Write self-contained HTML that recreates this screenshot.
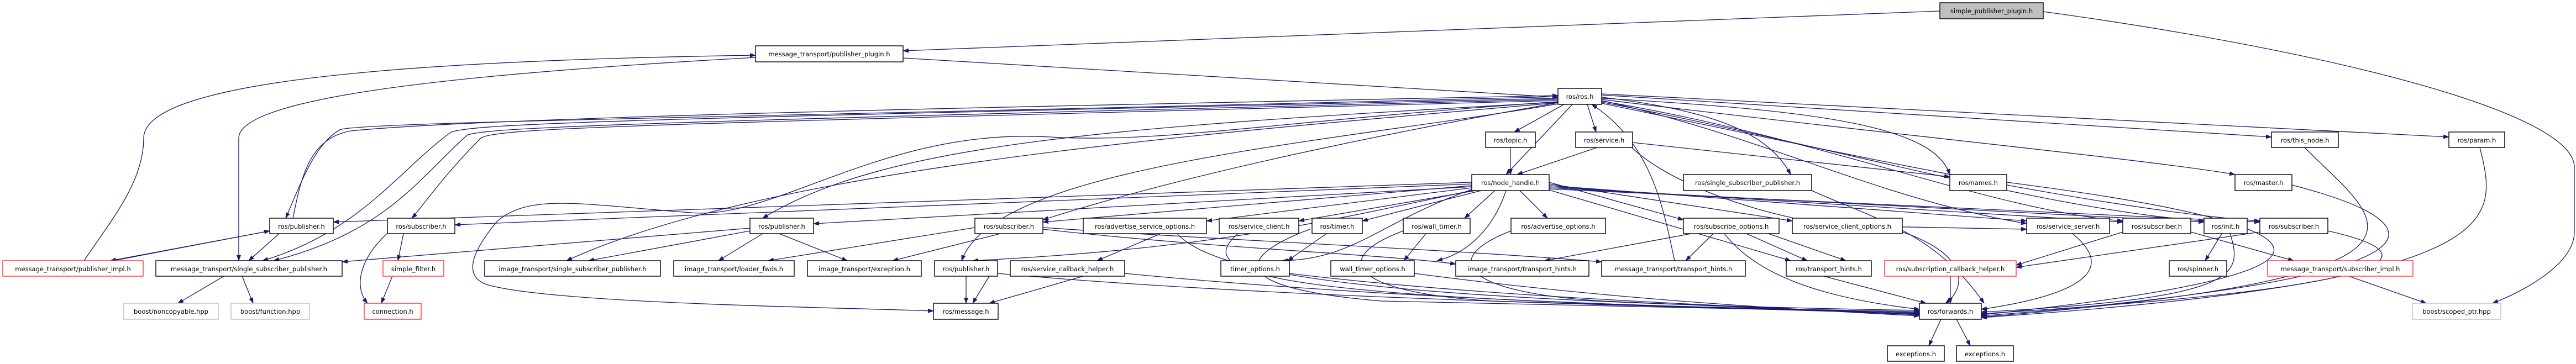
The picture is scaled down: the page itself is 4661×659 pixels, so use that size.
<!DOCTYPE html>
<html><head><meta charset="utf-8"><style>
html,body{margin:0;padding:0;background:#fff;}
svg{display:block;}
text{font-family:"DejaVu Sans","Liberation Sans",sans-serif;font-size:11.5px;fill:#000;}
.e{fill:none;stroke:#191970;stroke-width:1.3;}
.n{fill:#fff;stroke:#000;stroke-width:1.4;}
.r{fill:#fff;stroke:#ff3030;stroke-width:1.4;}
.g{fill:#fff;stroke:#bfbfbf;stroke-width:1.4;}
</style></head><body>
<svg width="4661" height="659" viewBox="0 0 4661 659" xmlns="http://www.w3.org/2000/svg">
<defs><marker id="a" markerWidth="11" markerHeight="8" refX="10" refY="4" orient="auto" markerUnits="userSpaceOnUse"><path d="M0,0 L11,4 L0,8 z" fill="#191970"/></marker></defs>
<g class="e" marker-end="url(#a)">
<path d="M3510,20 L1634,92"/>
<path d="M3697,21 C4200,90 4650,200 4658,300 L4658,420 C4658,480 4560,530 4510,549"/>
<path d="M1634,105 L2819,176"/>
<path d="M152,472 C200,400 260,330 260,250 C260,150 700,110 1367,100"/>
<path d="M1367,104 C900,130 432,170 432,250 L432,472"/>
<path d="M2819,175 C1500,210 640,220 615,235 C570,260 545,330 517,395"/>
<path d="M530,395 C545,320 560,250 635,237 C900,210 2000,190 2819,173"/>
<path d="M2819,178 C1200,215 850,222 815,240 C720,310 650,420 475,472"/>
<path d="M2819,180 C1200,220 870,230 845,245 C760,320 700,420 495,472"/>
<path d="M2819,182 C1200,225 900,230 870,250 C800,320 760,380 745,395"/>
<path d="M2819,185 C2000,230 1600,260 1380,395"/>
<path d="M2819,186 C2200,240 1400,300 1025,472"/>
<path d="M2663,330 L603,402"/>
<path d="M2663,333 L823,407"/>
<path d="M2663,338 L1472,405"/>
<path d="M1357,413 L619,474"/>
<path d="M1357,418 L1065,472"/>
<path d="M1380,423 L1300,472"/>
<path d="M1410,423 L1533,472"/>
<path d="M478,420 L200,472"/>
<path d="M205,472 L488,418"/>
<path d="M505,423 L450,472"/>
<path d="M730,423 L720,472"/>
<path d="M700,423 C650,470 640,520 665,549"/>
<path d="M710,500 L690,549"/>
<path d="M405,500 L322,549"/>
<path d="M438,500 L458,549"/>
<path d="M2819,184 C2300,220 2100,260 1900,248 C1600,230 1400,400 1250,385 C1050,370 960,350 900,400 C850,460 840,500 880,515 C1000,550 1500,556 1689,563"/>
<path d="M2830,189 L2740,239"/>
<path d="M2845,189 L2725,316"/>
<path d="M2872,189 L2888,239"/>
<path d="M2733,267 L2733,316"/>
<path d="M2890,267 L2745,316"/>
<path d="M2898,176 C3100,200 3200,240 3240,316"/>
<path d="M2898,178 C3300,200 3500,230 3528,316"/>
<path d="M2898,180 C3300,230 3900,290 4044,316"/>
<path d="M2898,172 L4110,248"/>
<path d="M2898,170 L4431,248"/>
<path d="M2954,258 L3528,320"/>
<path d="M2950,265 C3050,360 3300,420 3400,410 L3667,415"/>
<path d="M2898,182 C3200,250 3400,360 3667,405"/>
<path d="M2898,183 C3300,250 3600,380 3841,400"/>
<path d="M2898,185 C3300,260 3700,380 3988,400"/>
<path d="M2898,187 C3300,270 3800,380 4089,400"/>
<path d="M2819,186 C2400,260 2100,330 1887,398"/>
<path d="M2819,188 C2400,260 1800,300 1740,472"/>
<path d="M2663,336 L1887,402"/>
<path d="M2663,340 L2183,400"/>
<path d="M2670,345 L2350,400"/>
<path d="M2680,345 L2465,400"/>
<path d="M2705,345 L2650,395"/>
<path d="M2750,345 L2800,395"/>
<path d="M2803,330 L3046,398"/>
<path d="M2803,333 L3243,400"/>
<path d="M2803,336 L3667,400"/>
<path d="M2803,338 L3841,402"/>
<path d="M2803,340 L3988,402"/>
<path d="M2803,342 L4089,402"/>
<path d="M2803,344 L3240,472"/>
<path d="M2663,343 C2500,400 2450,470 2320,472"/>
<path d="M2725,345 C2700,420 2650,460 2600,472"/>
<path d="M2663,345 C2400,400 2200,450 1760,472"/>
<path d="M1810,423 L1615,472"/>
<path d="M1764,412 L1390,472"/>
<path d="M1887,415 C2200,450 2500,460 2634,478"/>
<path d="M1887,412 C2300,440 2600,450 2898,474"/>
<path d="M2100,423 L1985,472"/>
<path d="M2130,423 C2200,500 2500,545 3473,562"/>
<path d="M2240,423 C2150,500 2300,545 3473,564"/>
<path d="M2400,423 L2330,472"/>
<path d="M2370,415 C2250,460 2200,520 2500,545 L3473,566"/>
<path d="M2580,423 L2540,472"/>
<path d="M2539,418 C2400,470 2450,530 2700,545 L3473,568"/>
<path d="M2734,418 C2600,470 2650,530 2900,545 L3473,570"/>
<path d="M3060,423 L2795,472"/>
<path d="M3100,423 L3050,472"/>
<path d="M3160,423 L3270,472"/>
<path d="M3120,423 C3180,500 3300,540 3473,560"/>
<path d="M3200,423 L3340,472"/>
<path d="M3442,420 C3560,460 3560,520 3520,549"/>
<path d="M3750,423 C3820,480 3790,530 3585,560"/>
<path d="M3841,420 L3648,480"/>
<path d="M3964,420 L4150,472"/>
<path d="M4020,423 L3990,472"/>
<path d="M4035,423 C4060,500 4050,540 3585,565"/>
<path d="M4089,420 L3648,484"/>
<path d="M4212,418 C4400,460 4380,520 3585,568"/>
<path d="M3631,330 C4100,390 4450,480 3585,570"/>
<path d="M4147,335 C4400,400 4500,500 3585,572"/>
<path d="M4170,267 C4300,400 4500,500 3585,574"/>
<path d="M4487,267 C4520,400 4550,510 3585,575"/>
<path d="M3278,345 C3400,400 3500,420 3590,549"/>
<path d="M1748,500 L1748,549"/>
<path d="M1790,500 L1760,549"/>
<path d="M1960,500 L1790,549"/>
<path d="M1805,495 C2300,540 3000,555 3473,566"/>
<path d="M2035,495 C2500,540 3000,555 3473,568"/>
<path d="M2333,495 C2700,540 3200,556 3473,570"/>
<path d="M2559,495 C2900,540 3200,558 3473,572"/>
<path d="M3030,472 C3010,380 2990,260 2880,189"/>
<path d="M3300,500 L3485,549"/>
<path d="M3529,500 L3529,549"/>
<path d="M4250,500 L4390,549"/>
<path d="M3512,578 L3490,626"/>
<path d="M3540,578 L3565,626"/>
</g>
<g>
<rect x="3510" y="5" width="187" height="29" fill="#bfbfbf" stroke="#000" stroke-width="1.4"/><text x="3603.5" y="24" text-anchor="middle">simple_publisher_plugin.h</text>
<rect class="n" x="1367" y="83" width="267" height="29"/><text x="1500.5" y="102" text-anchor="middle">message_transport/publisher_plugin.h</text>
<rect class="n" x="2819" y="160" width="79" height="29"/><text x="2858.5" y="179" text-anchor="middle">ros/ros.h</text>
<rect class="n" x="2688" y="239" width="90" height="28"/><text x="2733" y="258" text-anchor="middle">ros/topic.h</text>
<rect class="n" x="2851" y="239" width="103" height="28"/><text x="2902.5" y="258" text-anchor="middle">ros/service.h</text>
<rect class="n" x="4110" y="239" width="121" height="28"/><text x="4170.5" y="258" text-anchor="middle">ros/this_node.h</text>
<rect class="n" x="4431" y="239" width="101" height="28"/><text x="4481.5" y="258" text-anchor="middle">ros/param.h</text>
<rect class="n" x="2663" y="316" width="140" height="29"/><text x="2733" y="335" text-anchor="middle">ros/node_handle.h</text>
<rect class="n" x="3046" y="316" width="232" height="29"/><text x="3162" y="335" text-anchor="middle">ros/single_subscriber_publisher.h</text>
<rect class="n" x="3528" y="316" width="103" height="29"/><text x="3579.5" y="335" text-anchor="middle">ros/names.h</text>
<rect class="n" x="4044" y="316" width="103" height="29"/><text x="4095.5" y="335" text-anchor="middle">ros/master.h</text>
<rect class="n" x="488" y="395" width="115" height="28"/><text x="545.5" y="414" text-anchor="middle">ros/publisher.h</text>
<rect class="n" x="701" y="395" width="122" height="28"/><text x="762" y="414" text-anchor="middle">ros/subscriber.h</text>
<rect class="n" x="1357" y="395" width="115" height="28"/><text x="1414.5" y="414" text-anchor="middle">ros/publisher.h</text>
<rect class="n" x="1764" y="395" width="123" height="28"/><text x="1825.5" y="414" text-anchor="middle">ros/subscriber.h</text>
<rect class="n" x="1960" y="395" width="223" height="28"/><text x="2071.5" y="414" text-anchor="middle">ros/advertise_service_options.h</text>
<rect class="n" x="2206" y="395" width="144" height="28"/><text x="2278" y="414" text-anchor="middle">ros/service_client.h</text>
<rect class="n" x="2374" y="395" width="91" height="28"/><text x="2419.5" y="414" text-anchor="middle">ros/timer.h</text>
<rect class="n" x="2539" y="395" width="121" height="28"/><text x="2599.5" y="414" text-anchor="middle">ros/wall_timer.h</text>
<rect class="n" x="2734" y="395" width="171" height="28"/><text x="2819.5" y="414" text-anchor="middle">ros/advertise_options.h</text>
<rect class="n" x="3046" y="395" width="173" height="28"/><text x="3132.5" y="414" text-anchor="middle">ros/subscribe_options.h</text>
<rect class="n" x="3243" y="395" width="199" height="28"/><text x="3342.5" y="414" text-anchor="middle">ros/service_client_options.h</text>
<rect class="n" x="3667" y="395" width="150" height="28"/><text x="3742" y="414" text-anchor="middle">ros/service_server.h</text>
<rect class="n" x="3841" y="395" width="123" height="28"/><text x="3902.5" y="414" text-anchor="middle">ros/subscriber.h</text>
<rect class="n" x="3988" y="395" width="78" height="28"/><text x="4027" y="414" text-anchor="middle">ros/init.h</text>
<rect class="n" x="4089" y="395" width="123" height="28"/><text x="4150.5" y="414" text-anchor="middle">ros/subscriber.h</text>
<rect class="r" x="5" y="472" width="254" height="28"/><text x="132" y="491" text-anchor="middle">message_transport/publisher_impl.h</text>
<rect class="n" x="282" y="472" width="337" height="28"/><text x="450.5" y="491" text-anchor="middle">message_transport/single_subscriber_publisher.h</text>
<rect class="r" x="693" y="472" width="110" height="28"/><text x="748" y="491" text-anchor="middle">simple_filter.h</text>
<rect class="n" x="877" y="472" width="318" height="28"/><text x="1036" y="491" text-anchor="middle">image_transport/single_subscriber_publisher.h</text>
<rect class="n" x="1219" y="472" width="218" height="28"/><text x="1328" y="491" text-anchor="middle">image_transport/loader_fwds.h</text>
<rect class="n" x="1461" y="472" width="206" height="28"/><text x="1564" y="491" text-anchor="middle">image_transport/exception.h</text>
<rect class="n" x="1691" y="472" width="114" height="28"/><text x="1748" y="491" text-anchor="middle">ros/publisher.h</text>
<rect class="n" x="1828" y="472" width="207" height="28"/><text x="1931.5" y="491" text-anchor="middle">ros/service_callback_helper.h</text>
<rect class="n" x="2209" y="472" width="124" height="28"/><text x="2271" y="491" text-anchor="middle">timer_options.h</text>
<rect class="n" x="2408" y="472" width="151" height="28"/><text x="2483.5" y="491" text-anchor="middle">wall_timer_options.h</text>
<rect class="n" x="2634" y="472" width="241" height="28"/><text x="2754.5" y="491" text-anchor="middle">image_transport/transport_hints.h</text>
<rect class="n" x="2898" y="472" width="260" height="28"/><text x="3028" y="491" text-anchor="middle">message_transport/transport_hints.h</text>
<rect class="n" x="3232" y="472" width="154" height="28"/><text x="3309" y="491" text-anchor="middle">ros/transport_hints.h</text>
<rect class="r" x="3410" y="472" width="238" height="28"/><text x="3529" y="491" text-anchor="middle">ros/subscription_callback_helper.h</text>
<rect class="n" x="3925" y="472" width="104" height="28"/><text x="3977" y="491" text-anchor="middle">ros/spinner.h</text>
<rect class="r" x="4103" y="472" width="263" height="28"/><text x="4234.5" y="491" text-anchor="middle">message_transport/subscriber_impl.h</text>
<rect class="g" x="224" y="549" width="171" height="29"/><text x="309.5" y="568" text-anchor="middle">boost/noncopyable.hpp</text>
<rect class="g" x="418" y="549" width="142" height="29"/><text x="489" y="568" text-anchor="middle">boost/function.hpp</text>
<rect class="r" x="659" y="549" width="103" height="29"/><text x="710.5" y="568" text-anchor="middle">connection.h</text>
<rect class="n" x="1689" y="549" width="117" height="29"/><text x="1747.5" y="568" text-anchor="middle">ros/message.h</text>
<rect class="n" x="3473" y="549" width="112" height="29"/><text x="3529" y="568" text-anchor="middle">ros/forwards.h</text>
<rect class="g" x="4365" y="549" width="160" height="29"/><text x="4445" y="568" text-anchor="middle">boost/scoped_ptr.hpp</text>
<rect class="n" x="3415" y="626" width="103" height="28"/><text x="3466.5" y="645" text-anchor="middle">exceptions.h</text>
<rect class="n" x="3540" y="626" width="103" height="28"/><text x="3591.5" y="645" text-anchor="middle">exceptions.h</text>
</g>
</svg>
</body></html>
